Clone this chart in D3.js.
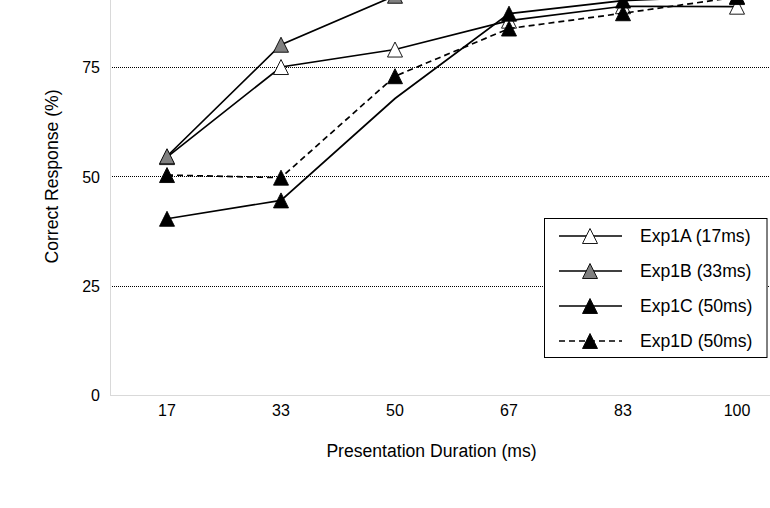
<!DOCTYPE html>
<html><head><meta charset="utf-8">
<script src="https://cdn.jsdelivr.net/npm/d3@7"></script>
<style>html,body{margin:0;padding:0;background:#fff;overflow:hidden}</style>
</head><body>
<svg id="chart" width="770" height="508"></svg>
<script>
const categories = ["17", "33", "50", "67", "83", "100"];
const yTicks = [0, 25, 50, 75];
const yMax = 100;
const seriesNames = ["Exp1A (17ms)", "Exp1B (33ms)", "Exp1C (50ms)", "Exp1D (50ms)"];
const exp1A = [54.4, 75.0, 79.0, 85.6, 88.9, 88.8];
const exp1B = [54.6, 80.1, 91.3, 93.5, 95.0, 96.0];
const exp1C = [40.3, 44.5, 67.8, 87.2, 90.2, 91.2];
const exp1D = [50.3, 49.7, 72.9, 83.8, 87.3, 91.0];
const exp1CNoMarker = ["50"];

const svg = d3.select("#chart");
const font = "'Liberation Sans', Arial, Helvetica, sans-serif";

const x = d3.scaleBand().domain(categories).range([110, 794]).padding(0);
const y = d3.scaleLinear().domain([0, yMax]).range([395, -42.3]);
const cx = c => x(c) + x.bandwidth() / 2;

// gridlines
svg.append("g").selectAll("line").data(yTicks.filter(t => t > 0).concat([yMax])).join("line")
  .attr("x1", 110).attr("x2", 794)
  .attr("y1", d => Math.round(y(d)) + 0.5).attr("y2", d => Math.round(y(d)) + 0.5)
  .attr("stroke", "#000").attr("stroke-width", 1).attr("stroke-dasharray", "1,1");

// axes lines
svg.append("line").attr("x1", 110.5).attr("x2", 110.5).attr("y1", y(yMax)).attr("y2", 395)
  .attr("stroke", "#d9d9d9").attr("stroke-width", 1);
svg.append("line").attr("x1", 110).attr("x2", 794).attr("y1", 395.5).attr("y2", 395.5)
  .attr("stroke", "#d9d9d9").attr("stroke-width", 1);

// y tick labels
const yAxis = d3.axisLeft(y).tickValues(yTicks).tickSize(0).tickPadding(0);
const gy = svg.append("g").attr("transform", "translate(100,0)").call(yAxis);
gy.select(".domain").remove();
gy.selectAll("text").attr("font-family", font).attr("font-size", 16).attr("fill", "#000")
  .attr("dy", "0.36em").attr("x", 0);

// x tick labels
const xAxis = d3.axisBottom(x).tickSize(0).tickPadding(0);
const gx = svg.append("g").call(xAxis);
gx.select(".domain").remove();
gx.selectAll(".tick").attr("transform", d => `translate(${cx(d)},0)`);
gx.selectAll("text").attr("font-family", font).attr("font-size", 16).attr("fill", "#000")
  .attr("y", 415.7).attr("dy", 0);

// axis titles
svg.append("text").attr("x", 431.5).attr("y", 456.7).attr("text-anchor", "middle")
  .attr("font-family", font).attr("font-size", 17.6).attr("fill", "#000")
  .text("Presentation Duration (ms)");
svg.append("text").attr("transform", "translate(58,176.5) rotate(-90)").attr("text-anchor", "middle")
  .attr("font-family", font).attr("font-size", 17.6).attr("fill", "#000")
  .text("Correct Response (%)");

const tri = "M0,-7.5L7.5,7.5L-7.5,7.5Z";
const series = [
  { name: seriesNames[0], values: exp1A, fill: "#fff", dash: null, skip: [] },
  { name: seriesNames[1], values: exp1B, fill: "#808080", dash: null, skip: [] },
  { name: seriesNames[2], values: exp1C, fill: "#000", dash: null, skip: exp1CNoMarker },
  { name: seriesNames[3], values: exp1D, fill: "#000", dash: "6,4", skip: [] }
];

const line = d3.line().x(d => cx(d.c)).y(d => y(d.v));
series.forEach(s => {
  const pts = categories.map((c, i) => ({ c, v: s.values[i] }));
  svg.append("path").datum(pts).attr("d", line)
    .attr("fill", "none").attr("stroke", "#000").attr("stroke-width", 1.7)
    .attr("stroke-dasharray", s.dash);
  svg.append("g").selectAll("path").data(pts.filter(p => !s.skip.includes(p.c))).join("path")
    .attr("d", tri).attr("transform", d => `translate(${cx(d.c)},${y(d.v)})`)
    .attr("fill", s.fill).attr("stroke", "#000").attr("stroke-width", 0.9);
});

// legend
const lg = svg.append("g");
lg.append("rect").attr("x", 544.5).attr("y", 218.5).attr("width", 222.5).attr("height", 139)
  .attr("fill", "#fff").attr("stroke", "#000").attr("stroke-width", 1);
const rowY = d3.scalePoint().domain(seriesNames).range([236, 341]);
series.forEach(s => {
  const ry = rowY(s.name);
  lg.append("line").attr("x1", 559).attr("x2", 622).attr("y1", ry).attr("y2", ry)
    .attr("stroke", "#000").attr("stroke-width", 1.7).attr("stroke-dasharray", s.dash);
  lg.append("path").attr("d", tri).attr("transform", `translate(590,${ry})`)
    .attr("fill", s.fill).attr("stroke", "#000").attr("stroke-width", 0.9);
  lg.append("text").attr("x", 640).attr("y", ry).attr("dy", "0.36em")
    .attr("font-family", font).attr("font-size", 17.6).attr("fill", "#000").text(s.name);
});
</script>
</body></html>
